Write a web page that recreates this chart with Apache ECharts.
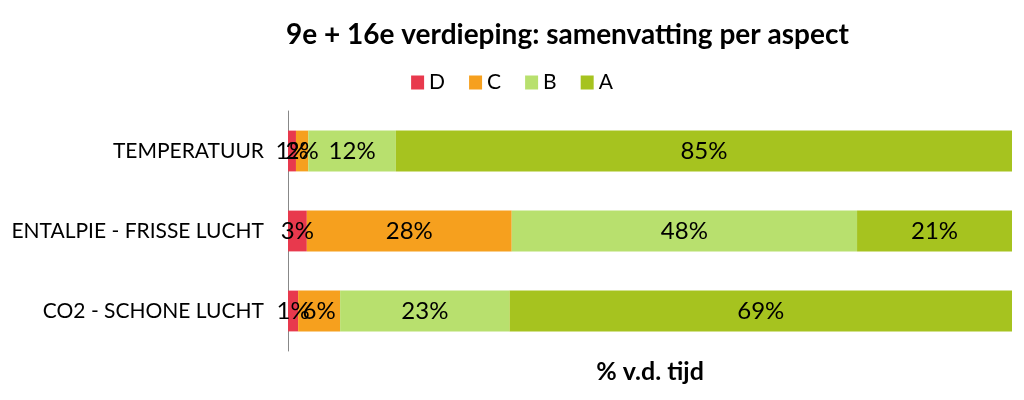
<!DOCTYPE html>
<html><head><meta charset="utf-8">
<script src="https://cdn.jsdelivr.net/npm/echarts@6/dist/echarts.min.js"></script>
<style>html,body{margin:0;padding:0;background:#fff}#c{width:1024px;height:400px}</style>
</head><body><div id="c"></div>
<script>
const categories = ['TEMPERATUUR', 'ENTALPIE - FRISSE LUCHT', 'CO2 - SCHONE LUCHT'];
const seriesNames = ['D', 'C', 'B', 'A'];
const valuesD = [1.1, 2.6, 1.4];
const valuesC = [1.7, 28.3, 5.8];
const valuesB = [12.1, 47.7, 23.4];
const valuesA = [85.1, 21.4, 69.4];
const colors = ['#E8394D', '#F6A01E', '#B8E06E', '#A6C31F'];
const allValues = [valuesD, valuesC, valuesB, valuesA];
const FONT = 'Lato';

const chart = echarts.init(document.getElementById('c'));
chart.setOption({
  animation: false,
  textStyle: {fontFamily: FONT},
  title: {
    text: '9e + 16e verdieping: samenvatting per aspect',
    left: 281, top: 16,
    textStyle: {fontFamily: FONT, fontSize: 28, fontWeight: 'bold', color: '#000'}
  },
  legend: {
    top: 67, left: 'center',
    itemWidth: 13, itemHeight: 14, itemGap: 24,
    icon: 'rect',
    textStyle: {fontFamily: FONT, fontSize: 21, color: '#000'},
    data: seriesNames
  },
  grid: {left: 288, right: 12, top: 111, height: 240, containLabel: false},
  xAxis: {
    type: 'value', min: 0, max: 100,
    axisLabel: {show: false}, splitLine: {show: false},
    axisLine: {show: false}, axisTick: {show: false},
    name: '% v.d. tijd', nameLocation: 'middle', nameGap: 8,
    nameTextStyle: {fontFamily: FONT, fontSize: 25, fontWeight: 'bold', color: '#000'}
  },
  yAxis: {
    type: 'category', inverse: true, data: categories,
    axisLine: {show: true, lineStyle: {color: '#888', width: 1}},
    axisTick: {show: false},
    axisLabel: {fontFamily: FONT, fontSize: 21, color: '#000', margin: 24}
  },
  series: seriesNames.map((n, i) => ({
    name: n, type: 'bar', stack: 'all',
    barCategoryGap: '49%',
    data: allValues[i],
    itemStyle: {color: colors[i]},
    label: {
      show: true, position: 'inside', color: '#000',
      fontFamily: FONT, fontSize: 24,
      formatter: p => Math.round(p.value) + '%'
    }
  }))
});
</script></body></html>
